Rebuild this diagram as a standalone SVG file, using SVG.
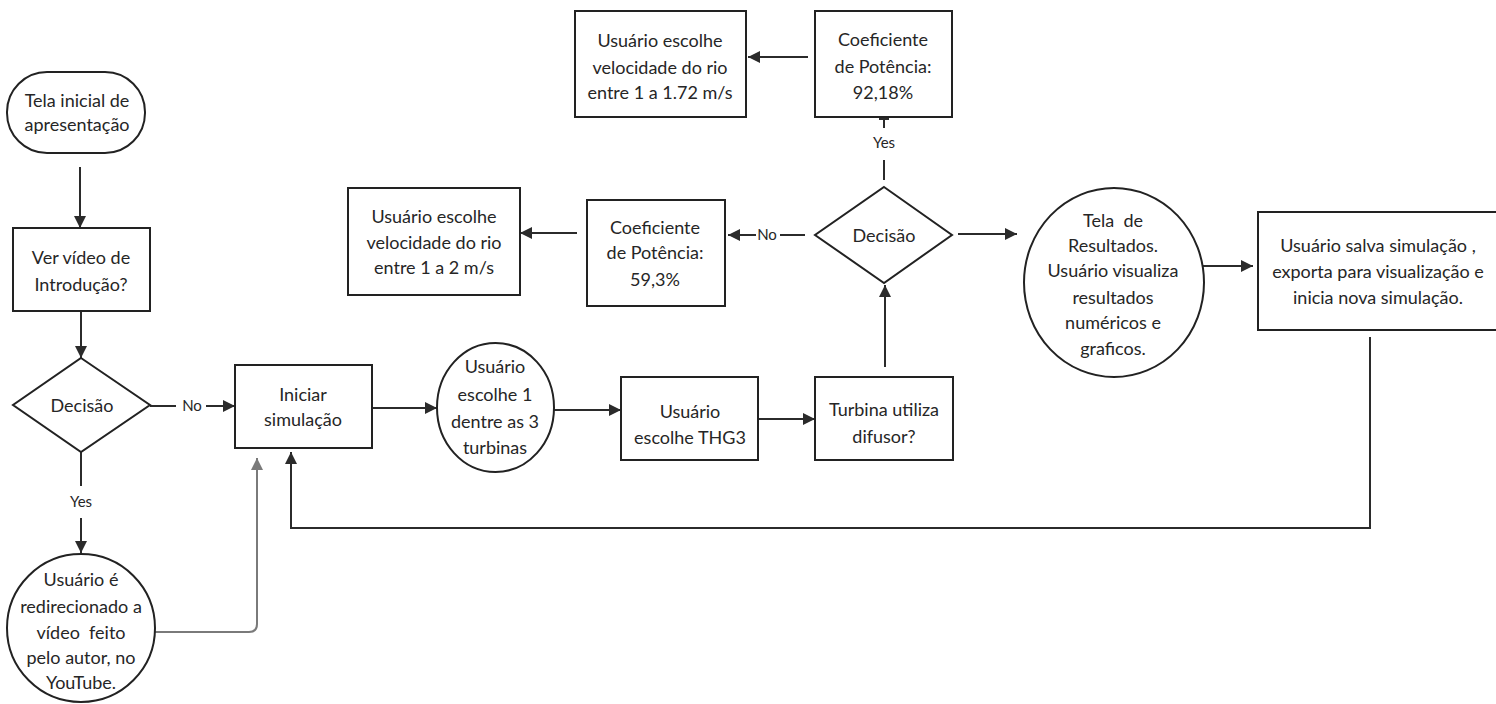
<svg xmlns="http://www.w3.org/2000/svg" width="1496" height="704" viewBox="0 0 1496 704">
<style>
.n{fill:#fff;stroke:#222;stroke-width:2}
.t{font-family:Lato,"Noto Sans",sans-serif;font-size:18px;fill:#262626;text-anchor:middle;white-space:pre}
.l{font-family:Lato,"Noto Sans",sans-serif;font-size:15px;fill:#262626;text-anchor:middle}
.c{fill:none;stroke:#2b2b2b;stroke-width:2}
.g{fill:none;stroke:#7a7a7a;stroke-width:2}
</style>
<defs>
<marker id="a" viewBox="0 0 12 12" refX="12" refY="6" markerWidth="12" markerHeight="12" markerUnits="userSpaceOnUse" orient="auto"><path d="M0,0 L12,6 L0,12 z" fill="#2b2b2b"/></marker>
<marker id="ag" viewBox="0 0 12 12" refX="12" refY="6" markerWidth="12" markerHeight="12" markerUnits="userSpaceOnUse" orient="auto"><path d="M0,0 L12,6 L0,12 z" fill="#7a7a7a"/></marker>
</defs>
<rect width="1496" height="704" fill="#fff"/>
<g id="connectors">
<path class="c" d="M80,167 V228" marker-end="url(#a)"/>
<path class="c" d="M81,311 V358" marker-end="url(#a)"/>
<path class="c" d="M150,406 H176"/>
<text class="l" x="192" y="411">No</text>
<path class="c" d="M206,406 H235" marker-end="url(#a)"/>
<path class="c" d="M81,452 V486"/>
<text class="l" x="81" y="507">Yes</text>
<path class="c" d="M81,518 V553" marker-end="url(#a)"/>
<path class="g" d="M155,632 H249 Q257,632 257,624 V458" marker-end="url(#ag)"/>
<path class="c" d="M1370,337 V528 H291 V452" marker-end="url(#a)"/>
<path class="c" d="M372,408 H437" marker-end="url(#a)"/>
<path class="c" d="M554,410 H621" marker-end="url(#a)"/>
<path class="c" d="M758,419 H815" marker-end="url(#a)"/>
<path class="c" d="M885,367 V285" marker-end="url(#a)"/>
<path class="c" d="M958,234 H1017" marker-end="url(#a)"/>
<path class="c" d="M1202,266 H1253" marker-end="url(#a)"/>
<path class="c" d="M805,235 H780"/>
<text class="l" x="767" y="240">No</text>
<path class="c" d="M756,235 H728" marker-end="url(#a)"/>
<path class="c" d="M577,233 H520" marker-end="url(#a)"/>
<path class="c" d="M884,180 V160"/>
<text class="l" x="884" y="148">Yes</text>
<path class="c" d="M884,128 V118"/>
<path class="c" d="M879,119 H889"/>
<path class="c" d="M808,57 H748" marker-end="url(#a)"/>
</g>
<g id="n1">
<rect class="n" x="7" y="72" width="138" height="81" rx="40"/>
<text class="t" x="77" y="107">Tela inicial de</text>
<text class="t" x="77" y="131">apresentação</text>
</g>
<g id="n2">
<rect class="n" x="13" y="228" width="137" height="83"/>
<text class="t" x="81" y="264">Ver vídeo de</text>
<text class="t" x="81" y="291">Introdução?</text>
</g>
<g id="n3">
<polygon class="n" points="81,358 150,405 81,452 13,405"/>
<text class="t" x="82" y="412">Decisão</text>
</g>
<g id="n4">
<circle class="n" cx="81" cy="628" r="74"/>
<text class="t" x="81" y="586">Usuário é</text>
<text class="t" x="81" y="613">redirecionado a</text>
<text class="t" x="81" y="639" xml:space="preserve">vídeo  feito</text>
<text class="t" x="81" y="664">pelo autor, no</text>
<text class="t" x="81" y="689">YouTube.</text>
</g>
<g id="n5">
<rect class="n" x="235" y="365" width="137" height="83"/>
<text class="t" x="303" y="401">Iniciar</text>
<text class="t" x="303" y="426">simulação</text>
</g>
<g id="n6">
<ellipse class="n" cx="495.5" cy="407.5" rx="58.5" ry="64.5"/>
<text class="t" x="495" y="373">Usuário</text>
<text class="t" x="495" y="401">escolhe 1</text>
<text class="t" x="495" y="428">dentre as 3</text>
<text class="t" x="495" y="454">turbinas</text>
</g>
<g id="n7">
<rect class="n" x="621" y="377" width="137" height="83"/>
<text class="t" x="690" y="418">Usuário</text>
<text class="t" x="690" y="444">escolhe THG3</text>
</g>
<g id="n8">
<rect class="n" x="815" y="377" width="138" height="83"/>
<text class="t" x="884" y="416">Turbina utiliza</text>
<text class="t" x="884" y="443">difusor?</text>
</g>
<g id="n9">
<polygon class="n" points="884,187 952,235 884,283 815,235"/>
<text class="t" x="884" y="242">Decisão</text>
</g>
<g id="n10">
<rect class="n" x="587" y="200" width="138" height="106"/>
<text class="t" x="655" y="234">Coeficiente</text>
<text class="t" x="655" y="259">de Potência:</text>
<text class="t" x="655" y="286">59,3%</text>
</g>
<g id="n11">
<rect class="n" x="348" y="188" width="172" height="107"/>
<text class="t" x="434" y="223">Usuário escolhe</text>
<text class="t" x="434" y="249">velocidade do rio</text>
<text class="t" x="434" y="274">entre 1 a 2 m/s</text>
</g>
<g id="n12">
<rect class="n" x="815" y="11" width="137" height="106"/>
<text class="t" x="883" y="46">Coeficiente</text>
<text class="t" x="883" y="73">de Potência:</text>
<text class="t" x="883" y="99">92,18%</text>
</g>
<g id="n13">
<rect class="n" x="575" y="11" width="171" height="106"/>
<text class="t" x="660" y="47">Usuário escolhe</text>
<text class="t" x="660" y="74">velocidade do rio</text>
<text class="t" x="660" y="99">entre 1 a 1.72 m/s</text>
</g>
<g id="n14">
<ellipse class="n" cx="1114" cy="282.5" rx="90" ry="94.5"/>
<text class="t" x="1113" y="227" xml:space="preserve">Tela  de</text>
<text class="t" x="1113" y="252">Resultados.</text>
<text class="t" x="1113" y="277">Usuário visualiza</text>
<text class="t" x="1113" y="304">resultados</text>
<text class="t" x="1113" y="329">numéricos e</text>
<text class="t" x="1113" y="355">graficos.</text>
</g>
<g id="n15">
<rect class="n" x="1258" y="212" width="240" height="118"/>
<text class="t" x="1378" y="252">Usuário salva simulação ,</text>
<text class="t" x="1378" y="278">exporta para visualização e</text>
<text class="t" x="1378" y="304">inicia nova simulação.</text>
</g>
</svg>
